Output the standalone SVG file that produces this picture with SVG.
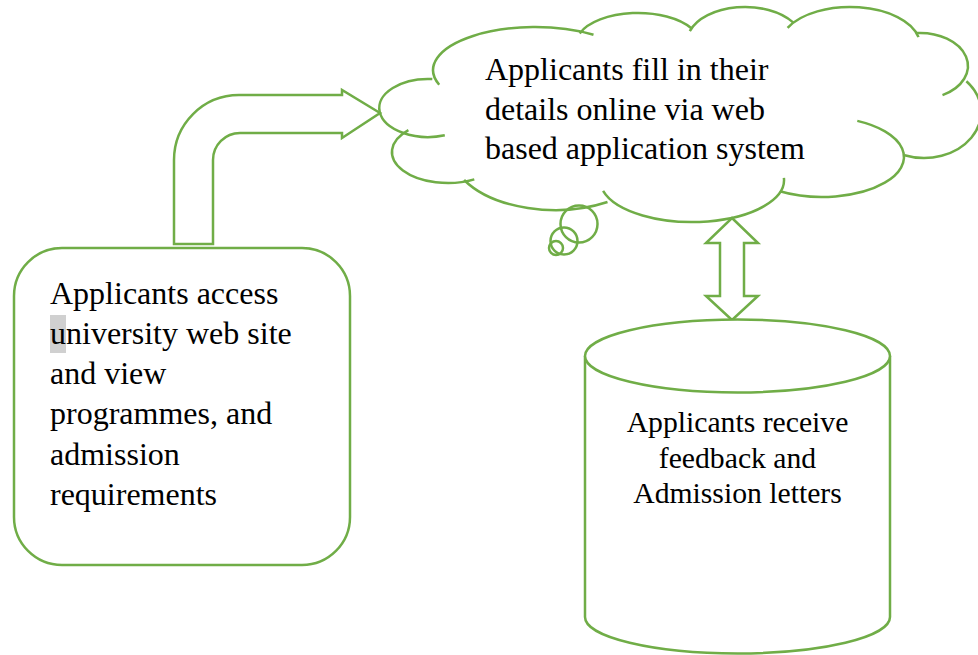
<svg xmlns="http://www.w3.org/2000/svg" width="978" height="655" viewBox="0 0 978 655">
  <style>
    .ln { fill: none; stroke: #70AD47; stroke-width: 2.5; stroke-linejoin: miter; }
    .sh { fill: #FFFFFF; stroke: #70AD47; stroke-width: 2.5; }
    .tx { font-family: "Liberation Serif", "Times New Roman", serif; fill: #000000; }
  </style>
  <rect width="978" height="655" fill="#FFFFFF"/>

  <g id="connectors">
    <path id="bent-arrow" class="sh" d="M174,244 L174,160 A65,65 0 0 1 239,95 L342,95 L342,90 L380,113 L342,138 L342,133 L240,133 A27,27 0 0 0 213,160 L213,244 Z"/>
    <path id="double-arrow" class="sh" d="M732,218 L758,243 L744,243 L744,296 L758,296 L732,320 L706,296 L720,296 L720,243 L706,243 Z"/>
  </g>

  <g id="node-access">
    <rect class="sh" x="14" y="248" width="336" height="317" rx="48" ry="48"/>
    <rect x="50" y="315" width="16" height="38" fill="#D0D0D0"/>
    <g class="tx" font-size="32">
      <text x="50" y="304">Applicants access</text>
      <text x="50" y="344">university web site</text>
      <text x="50" y="384">and view</text>
      <text x="50" y="424">programmes, and</text>
      <text x="50" y="464.5">admission</text>
      <text x="50" y="505">requirements</text>
    </g>
  </g>

  <g id="node-cloud">
    <path class="ln" d="M444.8,135.3 A49,29 0 1 1 432.3,79.1"/>
    <path class="ln" d="M439.2,84.7 A102,43 0 0 1 593.5,34.8"/>
    <path class="ln" d="M579.7,33.4 A62,31 0 0 1 691.7,28.5"/>
    <path class="ln" d="M689.8,31.2 A58,35 0 0 1 793.1,22.4"/>
    <path class="ln" d="M787.6,27.8 A70,38 0 0 1 918.5,37.1"/>
    <path class="ln" d="M915.8,33.1 A48,33 0 0 1 942.5,95.1"/>
    <path class="ln" d="M966.4,81.2 A57,46 0 0 1 904.5,155.2"/>
    <path class="ln" d="M857.3,120.9 A82,40 0 0 1 884.8,182.7 A82,40 0 0 1 779.8,191.3"/>
    <path class="ln" d="M783.9,177.8 A92,42 0 0 1 708,221.4 A92,42 0 0 1 603.1,190.9"/>
    <path class="ln" d="M607.5,202 A105,60 0 0 1 464.1,180"/>
    <path class="ln" d="M474.3,179.4 A56,31 0 0 1 408.4,130.1"/>
    <circle class="ln" cx="579" cy="224" r="18.5"/>
    <circle class="ln" cx="564" cy="241" r="13.5"/>
    <circle class="ln" cx="556" cy="248" r="7"/>
    <g class="tx" font-size="32">
      <text x="485" y="80">Applicants fill in their</text>
      <text x="485" y="119.5">details online via web</text>
      <text x="485" y="159">based application system</text>
    </g>
  </g>

  <g id="node-feedback">
    <path class="sh" d="M585,356 L585,617 A152.5,36.5 0 0 0 890,617 L890,356"/>
    <ellipse class="sh" cx="737.5" cy="356" rx="152.5" ry="36.5"/>
    <g class="tx" font-size="29.7" text-anchor="middle">
      <text x="737.5" y="432">Applicants receive</text>
      <text x="737.5" y="468">feedback and</text>
      <text x="737.5" y="503">Admission letters</text>
    </g>
  </g>
</svg>
